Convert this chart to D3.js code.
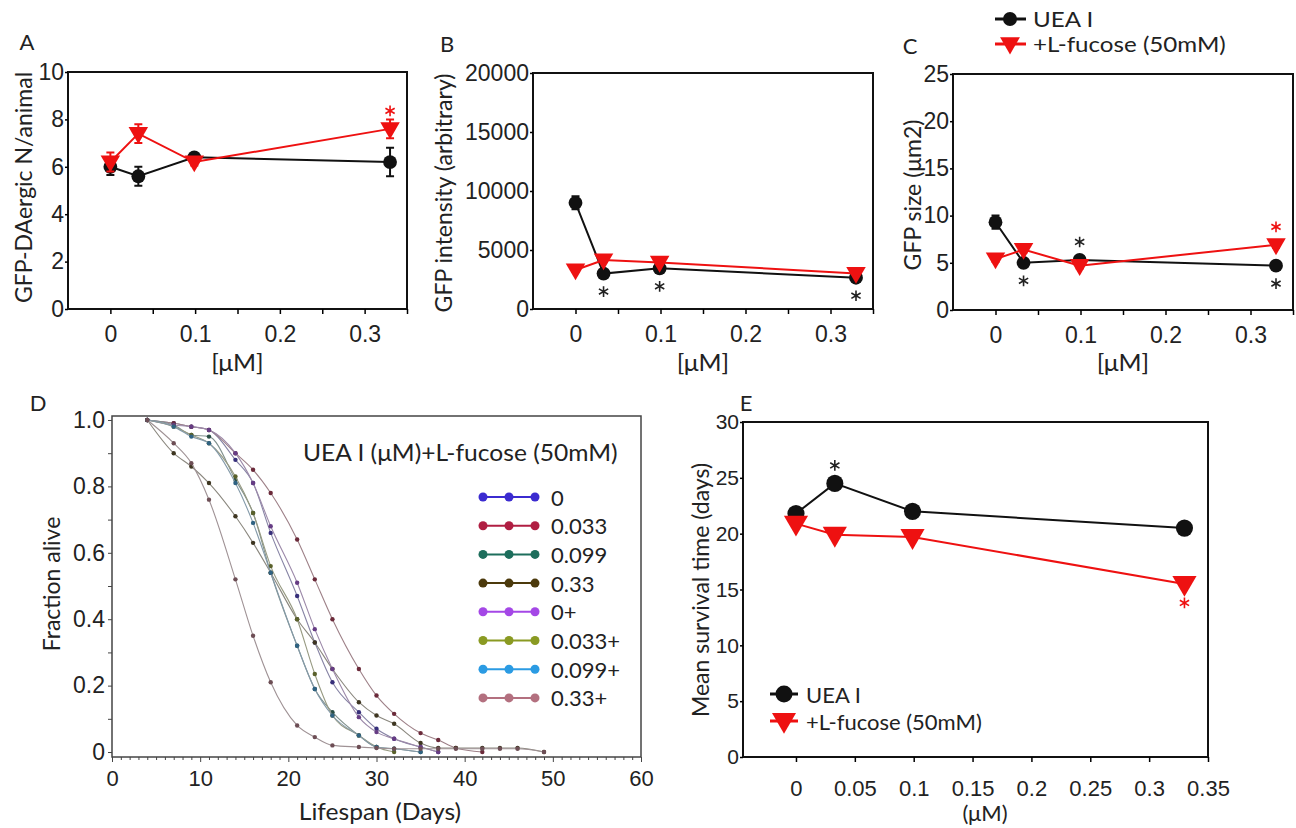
<!DOCTYPE html>
<html>
<head>
<meta charset="utf-8">
<script src="https://cdn.jsdelivr.net/npm/d3@7"></script>
<style>
  body { margin: 0; background: #fff; }
  svg { font-family: Lato, "Open Sans", sans-serif; }
  .tick text { fill: #222; }
  .domain { display: none; }
</style>
</head>
<body>
<script>
// concentrations shared by panels A, B, C and E
var conc = [0, 0.033, 0.099, 0.33];

// Panel A: GFP-DAergic neurons per animal
var aUea = [6.0, 5.6, 6.4, 6.2];
var aUeaErr = [0.35, 0.4, 0.15, 0.6];
var aFuc = [6.2, 7.4, 6.2, 7.6];
var aFucErr = [0.4, 0.4, 0.15, 0.4];
var aStarUea = [0, 0, 0, 0];
var aStarFuc = [0, 0, 0, 1];

// Panel B: GFP intensity
var bUea = [9000, 3000, 3450, 2650];
var bUeaErr = [550, 200, 200, 200];
var bFuc = [3300, 4150, 3950, 3000];
var bFucErr = [150, 150, 150, 150];
var bStarUea = [0, -1, -1, -1];
var bStarFuc = [0, 0, 0, 0];

// Panel C: GFP size
var cUea = [9.3, 5.0, 5.3, 4.7];
var cUeaErr = [0.7, 0.3, 0.3, 0.3];
var cFuc = [5.4, 6.4, 4.7, 6.9];
var cFucErr = [0.3, 0.3, 0.3, 0.3];
var cStarUea = [0, -1, 1, -1];
var cStarFuc = [0, 0, 0, 1];

// Panel E: mean survival time
var eUea = [21.8, 24.5, 22.0, 20.5];
var eFuc = [20.9, 19.9, 19.7, 15.5];
var eStarUea = [0, 1, 0, 0];
var eStarFuc = [0, 0, 0, -1];

// Panel D: survival curves
var dNames = ["0", "0.033", "0.099", "0.33", "0+", "0.033+", "0.099+", "0.33+"];
var dColors = ["#3b2bd0", "#b01e42", "#1d6e5c", "#4c3a0c", "#a447e6", "#8a9a22", "#2b9be3", "#b3707f"];
var dDays = [4, 7, 9, 11, 14, 16, 18, 21, 23, 25, 28, 30, 32, 35, 37, 39, 42, 44, 46, 49];
var dAlive = [
  [1, 0.99, 0.98, 0.97, 0.88, 0.81, 0.66, 0.47, 0.33, 0.21, 0.12, 0.07, 0.04, 0.015, 0],
  [1, 0.99, 0.98, 0.97, 0.90, 0.85, 0.78, 0.64, 0.52, 0.40, 0.25, 0.17, 0.115, 0.057, 0.036, 0.012, 0],
  [1, 0.985, 0.955, 0.95, 0.82, 0.72, 0.54, 0.32, 0.19, 0.12, 0.05, 0.015, 0.01, 0],
  [1, 0.90, 0.86, 0.81, 0.71, 0.63, 0.54, 0.40, 0.33, 0.25, 0.15, 0.11, 0.085, 0.027, 0.012, 0.012, 0.012, 0.012, 0.012, 0],
  [1, 0.985, 0.98, 0.97, 0.90, 0.81, 0.68, 0.51, 0.37, 0.25, 0.105, 0.06, 0.04, 0.015, 0],
  [1, 0.98, 0.955, 0.93, 0.83, 0.72, 0.56, 0.40, 0.235, 0.11, 0.05, 0.015, 0],
  [1, 0.98, 0.95, 0.93, 0.81, 0.69, 0.54, 0.32, 0.19, 0.11, 0.05, 0.015, 0.01, 0],
  [1, 0.93, 0.87, 0.76, 0.52, 0.35, 0.21, 0.08, 0.045, 0.02, 0.015, 0.012, 0.01, 0.01, 0.01, 0.01, 0.01, 0.01, 0.01, 0]
];

var red = "#ee1111";

var svg = d3.select("body").append("svg")
  .attr("width", 1296)
  .attr("height", 828);

function frame(x, y) {
  svg.append("rect")
    .attr("x", x.range()[0]).attr("y", y.range()[1])
    .attr("width", x.range()[1] - x.range()[0])
    .attr("height", y.range()[0] - y.range()[1])
    .attr("fill", "none").attr("stroke", "#111").attr("stroke-width", 2);
}

// text helper; sx stretches the text horizontally like the reference
function label(txt, x, y, opts) {
  opts = opts || {};
  var tf = "translate(" + x + "," + y + ")" + (opts.rotate ? " rotate(-90)" : "") +
    " scale(" + (opts.sx || 1) + ",1)";
  return svg.append("text")
    .attr("transform", tf)
    .attr("text-anchor", opts.anchor || "middle")
    .attr("dominant-baseline", "central")
    .style("font-size", (opts.size || 22) + "px")
    .style("fill", opts.fill || "#222")
    .text(txt);
}

function tri(size) {
  return d3.symbol().type(d3.symbolTriangle).size(size)();
}

function ticksStyle(g, fs) {
  g.selectAll("line").attr("stroke-width", 1.5);
  g.selectAll("text").style("font-size", fs + "px");
}

// Draw one series: line, error bars, markers
function series(x, y, vals, errs, color, isTri, msize) {
  var pts = conc.map(function(c, i) { return {x: c, v: vals[i], e: errs ? errs[i] : 0}; });
  svg.append("path")
    .attr("d", d3.line().x(function(d) { return x(d.x); }).y(function(d) { return y(d.v); })(pts))
    .attr("fill", "none").attr("stroke", color).attr("stroke-width", 2);
  pts.forEach(function(d) {
    if (d.e > 0) {
      var cx = x(d.x);
      svg.append("path")
        .attr("d", "M" + cx + "," + y(d.v - d.e) + "V" + y(d.v + d.e) +
          "M" + (cx - 4) + "," + y(d.v - d.e) + "H" + (cx + 4) +
          "M" + (cx - 4) + "," + y(d.v + d.e) + "H" + (cx + 4))
        .attr("stroke", color).attr("stroke-width", 2).attr("fill", "none");
    }
    if (isTri) {
      svg.append("path")
        .attr("d", tri(msize * 1.1))
        .attr("transform", "translate(" + x(d.x) + "," + (y(d.v) - 1) + ") rotate(180)")
        .attr("fill", color);
    } else {
      svg.append("circle")
        .attr("cx", x(d.x)).attr("cy", y(d.v))
        .attr("r", Math.sqrt(msize / Math.PI))
        .attr("fill", color);
    }
  });
}

function stars(x, y, vals, flags, color, off) {
  var ast = d3.symbol().type(d3.symbolAsterisk).size(80)();
  flags.forEach(function(f, i) {
    if (!f) return;
    svg.append("path").attr("d", ast)
      .attr("transform", "translate(" + x(conc[i]) + "," + (y(vals[i]) - f * off) + ")")
      .attr("fill", "none").attr("stroke", color).attr("stroke-width", 1.6);
  });
}

function smallPanel(p) {
  var x = d3.scaleLinear().domain([-0.05, 0.35]).range(p.xr);
  var y = d3.scaleLinear().domain([0, p.ymax]).range(p.yr);
  frame(x, y);
  svg.append("g")
    .attr("transform", "translate(0," + p.yr[0] + ")")
    .call(d3.axisBottom(x).tickValues(d3.range(0, 0.36, 0.05)).tickSize(5).tickPadding(12)
      .tickFormat(function(d, i) { return i % 2 ? "" : d3.format("~g")(+d.toFixed(2)); }))
    .call(ticksStyle, 23);
  svg.append("g")
    .attr("transform", "translate(" + p.xr[0] + ",0)")
    .call(d3.axisLeft(y).ticks(5).tickSize(3).tickPadding(1).tickFormat(d3.format("d")))
    .call(ticksStyle, 23);
  series(x, y, p.uea, p.ueaErr, "#111", false, 150);
  series(x, y, p.fuc, p.fucErr, red, true, 150);
  stars(x, y, p.uea, p.starUea, "#222", 18);
  stars(x, y, p.fuc, p.starFuc, red, 18);
  label(p.ytitle, p.ytx, (p.yr[0] + p.yr[1]) / 2 + p.ytdy, {rotate: true, size: 23});
  label("[\u03bcM]", (p.xr[0] + p.xr[1]) / 2, 362, {size: 23, sx: 1.08});
  label(p.letter, p.lx, p.ly, {size: 22});
}

smallPanel({xr: [68, 407], yr: [309, 72], ymax: 10, uea: aUea, ueaErr: aUeaErr, fuc: aFuc, fucErr: aFucErr,
  starUea: aStarUea, starFuc: aStarFuc, ytitle: "GFP-DAergic N/animal", ytx: 23, ytdy: -3, letter: "A", lx: 27, ly: 41});
smallPanel({xr: [533, 873], yr: [309, 73], ymax: 20000, uea: bUea, ueaErr: bUeaErr, fuc: bFuc, fucErr: bFucErr,
  starUea: bStarUea, starFuc: bStarFuc, ytitle: "GFP intensity (arbitrary)", ytx: 443, ytdy: 2, letter: "B", lx: 447, ly: 43});
smallPanel({xr: [953, 1293], yr: [310, 74], ymax: 25, uea: cUea, ueaErr: cUeaErr, fuc: cFuc, fucErr: cFucErr,
  starUea: cStarUea, starFuc: cStarFuc, ytitle: "GFP size (\u03bcm2)", ytx: 912, ytdy: 3, letter: "C", lx: 910, ly: 45});

// legend above panel C
[["UEA I", "#111", false], ["+L-fucose (50mM)", red, true]].forEach(function(d, i) {
  var ly = 19 + i * 25;
  svg.append("line").attr("x1", 995).attr("x2", 1026).attr("y1", ly).attr("y2", ly)
    .attr("stroke", d[1]).attr("stroke-width", 3);
  if (d[2]) {
    svg.append("path").attr("d", tri(170)).attr("transform", "translate(1010," + (ly - 1) + ") rotate(180)").attr("fill", d[1]);
  } else {
    svg.append("circle").attr("cx", 1010).attr("cy", ly).attr("r", 7).attr("fill", d[1]);
  }
  label(d[0], 1033, ly, {anchor: "start", size: 21, sx: 1.15});
});

// Panel D: survival curves
(function() {
  var x = d3.scaleLinear().domain([0, 60]).range([112, 641]);
  var y = d3.scaleLinear().domain([-0.015, 1.012]).range([757, 416]);
  svg.append("rect")
    .attr("x", 112).attr("y", 416).attr("width", 529).attr("height", 341)
    .attr("fill", "none").attr("stroke", "#444").attr("stroke-width", 1.5);
  svg.append("g")
    .attr("transform", "translate(0,757)")
    .call(d3.axisBottom(x).tickValues(d3.range(0, 61, 1)).tickSize(3).tickPadding(10)
      .tickFormat(function(d) { return d % 10 ? "" : d; }))
    .call(ticksStyle, 22)
    .call(function(g) {
      g.selectAll("line").attr("stroke", "#444").attr("stroke-width", 1).attr("y2", function(d) { return d % 10 ? 3 : 5; });
    });
  svg.append("g")
    .attr("transform", "translate(112,0)")
    .call(d3.axisLeft(y).tickValues(d3.range(0, 1.01, 0.1)).tickSize(4).tickPadding(3)
      .tickFormat(function(d, i) { return i % 2 ? "" : (i === 0 ? "0" : d3.format(".1f")(d)); }))
    .call(ticksStyle, 23)
    .call(function(g) { g.selectAll("line").attr("stroke", "#444").attr("stroke-width", 1); });

  var line = d3.line().curve(d3.curveMonotoneX)
    .x(function(d) { return x(d[0]); }).y(function(d) { return y(d[1]); });
  dAlive.forEach(function(vals, k) {
    var pts = vals.map(function(v, i) { return [dDays[i], v]; });
    svg.append("path").attr("d", line(pts))
      .attr("fill", "none").attr("stroke", d3.interpolateRgb(dColors[k], "#9a9a9a")(0.8))
      .attr("stroke-width", 1.1);
    pts.forEach(function(p) {
      svg.append("circle").attr("cx", x(p[0])).attr("cy", y(p[1])).attr("r", 2.2)
        .attr("fill", d3.interpolateRgb(dColors[k], "#333")(0.55));
    });
  });

  label("UEA I (\u03bcM)+L-fucose (50mM)", 303, 452, {anchor: "start", size: 23, sx: 1.07});
  dNames.forEach(function(n, k) {
    var ly = 497 + k * 28.7;
    svg.append("line").attr("x1", 483).attr("x2", 535).attr("y1", ly).attr("y2", ly)
      .attr("stroke", dColors[k]).attr("stroke-width", 2);
    [483, 509, 535].forEach(function(cx) {
      svg.append("circle").attr("cx", cx).attr("cy", ly).attr("r", 4.5).attr("fill", dColors[k]);
    });
    label(n, 551, ly, {anchor: "start", size: 22});
  });

  label("Fraction alive", 51, 584, {rotate: true, size: 23});
  label("Lifespan (Days)", 380, 811, {size: 23, sx: 1.07});
  label("D", 38, 402, {size: 22});
})();

// Panel E: mean survival time
(function() {
  var x = d3.scaleLinear().domain([-0.045, 0.35]).range([743, 1208]);
  var y = d3.scaleLinear().domain([0, 30]).range([757, 422]);
  frame(x, y);
  svg.append("g")
    .attr("transform", "translate(0,757)")
    .call(d3.axisBottom(x).tickValues(d3.range(0, 0.351, 0.05)).tickSize(5).tickPadding(18)
      .tickFormat(function(d) { return d3.format("~g")(+d.toFixed(2)); }))
    .call(ticksStyle, 22);
  svg.append("g")
    .attr("transform", "translate(743,0)")
    .call(d3.axisLeft(y).ticks(6).tickSize(3).tickPadding(1))
    .call(ticksStyle, 21);
  series(x, y, eUea, null, "#111", false, 230);
  series(x, y, eFuc, null, red, true, 230);
  stars(x, y, eUea, eStarUea, "#222", 18);
  stars(x, y, eFuc, eStarFuc, red, 19);

  [["UEA I", "#111", false], ["+L-fucose (50mM)", red, true]].forEach(function(d, i) {
    var ly = 694 + i * 27;
    svg.append("line").attr("x1", 770).attr("x2", 798).attr("y1", ly).attr("y2", ly)
      .attr("stroke", d[1]).attr("stroke-width", 3);
    if (d[2]) {
      svg.append("path").attr("d", tri(250)).attr("transform", "translate(784," + (ly - 1) + ") rotate(180)").attr("fill", d[1]);
    } else {
      svg.append("circle").attr("cx", 784).attr("cy", ly).attr("r", 8.5).attr("fill", d[1]);
    }
    label(d[0], 806, ly, {anchor: "start", size: 22});
  });

  label("Mean survival time (days)", 700, 590, {rotate: true, size: 23});
  label("(\u03bcM)", 985, 812, {size: 22});
  label("E", 746, 402, {size: 22});
})();
</script>
</body>
</html>
